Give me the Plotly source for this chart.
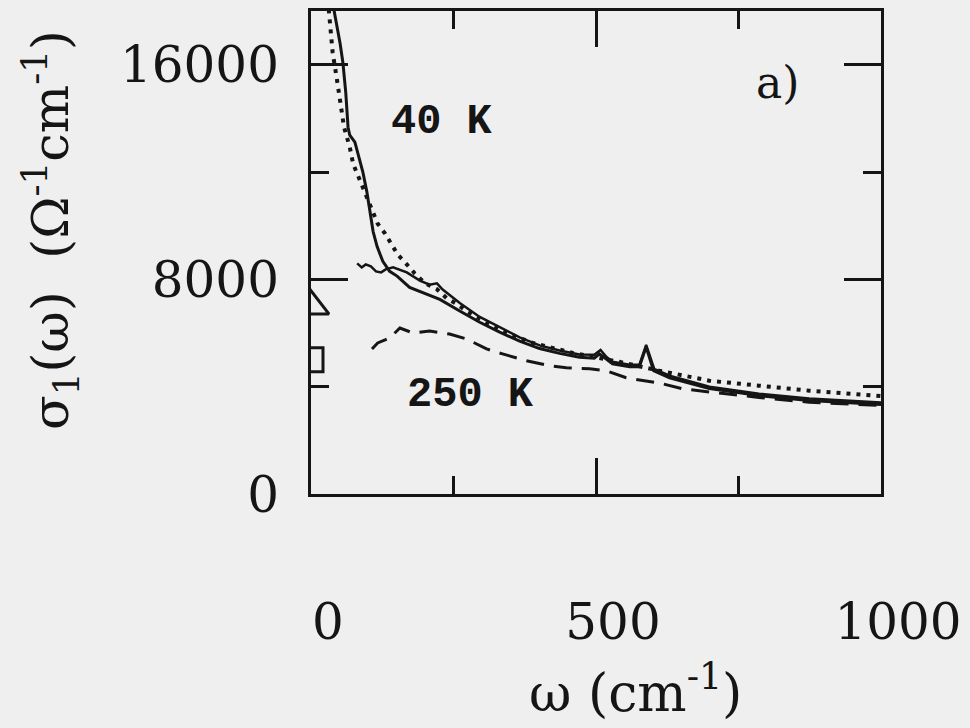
import plotly.graph_objects as go

# ---- data ----
# 40 K measured conductivity (solid)
w_40K = [38, 45, 51, 56, 61, 65, 68, 77, 82, 91, 98, 103, 109, 116, 126, 138, 151, 173,
         203, 226, 261, 296, 331, 366, 401, 436, 471, 497, 506, 517, 529, 559, 576, 588,
         601, 629, 699, 786, 874, 1000]
s_40K = [18300, 17550, 16800, 16070, 14960, 13670, 13370, 13110, 12740, 12000, 11260,
         10520, 9780, 9220, 8670, 8300, 8120, 7700, 7450, 7250, 6820, 6400, 6030, 5700,
         5420, 5240, 5100, 5060, 5222, 5060, 4852, 4741, 4741, 5481, 4593, 4333, 3926,
         3667, 3481, 3333]

# intermediate temperature (second solid curve)
w_mid = [81, 89, 96, 105, 114, 123, 131, 144, 168, 191, 208, 221, 231, 261, 296, 331,
         366, 401, 436, 471, 497, 508, 518, 529, 559, 576, 588, 602, 629, 699, 786, 874,
         1000]
s_mid = [8593, 8444, 8556, 8481, 8296, 8259, 8370, 8450, 8260, 7950, 7800, 7850, 7620,
         7120, 6600, 6220, 5840, 5540, 5350, 5200, 5190, 5370, 5111, 4926, 4815, 4815,
         5556, 4667, 4407, 4000, 3741, 3556, 3407]

# fit (dotted)
w_fit = [28, 31, 35, 38, 45, 51, 58, 68, 74, 82, 89, 107, 117, 130, 142, 152, 168, 182,
         200, 221, 238, 256, 273, 313, 348, 389, 459, 541, 611, 699, 786, 874, 1000]
s_fit = [18800, 18000, 17185, 16444, 15519, 14593, 13667, 12926, 12296, 11889, 11519,
         10519, 10074, 9704, 9296, 8926, 8556, 8222, 7852, 7630, 7296, 7074, 6815, 6333,
         5963, 5630, 5259, 4926, 4593, 4222, 4037, 3852, 3650]

# 250 K (dashed)
w_250K = [107, 117, 130, 138, 156, 165, 179, 208, 243, 273, 308, 336, 378, 419, 448, 489,
          518, 553, 616, 651, 699, 786, 874, 1000]
s_250K = [5407, 5630, 5741, 5815, 6185, 6111, 6000, 6074, 5963, 5778, 5407, 5222, 4963,
          4778, 4704, 4667, 4593, 4333, 4111, 3926, 3800, 3600, 3420, 3300]

# dc conductivities at omega = 0
dc_tri = 7000
dc_sq = 5000

x_ticks = [0, 500, 1000]
x_minor = [250, 750]
y_ticks = [0, 8000, 16000]
y_minor = [4000, 12000]

INK = "#151515"
BG = "#efefef"

fig = go.Figure()
fig.add_trace(go.Scatter(x=w_fit, y=s_fit, mode="lines",
                         line=dict(color=INK, width=4, dash="4px,6px")))
fig.add_trace(go.Scatter(x=w_250K, y=s_250K, mode="lines",
                         line=dict(color=INK, width=3, dash="18px,10px")))
fig.add_trace(go.Scatter(x=w_mid, y=s_mid, mode="lines",
                         line=dict(color=INK, width=2.5)))
fig.add_trace(go.Scatter(x=w_40K, y=s_40K, mode="lines",
                         line=dict(color=INK, width=3)))
fig.add_trace(go.Scatter(x=[0], y=[dc_tri], mode="markers", cliponaxis=True,
                         marker=dict(symbol="triangle-up-open", size=31,
                                     color=INK, line=dict(width=3, color=INK))))
fig.add_trace(go.Scatter(x=[0], y=[dc_sq], mode="markers", cliponaxis=True,
                         marker=dict(symbol="square-open", size=24,
                                     color=INK, line=dict(width=3, color=INK))))

tickfont = dict(family="DejaVu Serif", size=50, color=INK)

fig.update_xaxes(range=[0, 1000], tickvals=x_ticks, ticktext=[str(v) for v in x_ticks],
                 ticks="inside", ticklen=36, tickwidth=3, tickcolor=INK,
                 minor=dict(tickvals=x_minor, ticks="inside", ticklen=18, tickwidth=3,
                            tickcolor=INK),
                 showline=True, linewidth=3, linecolor=INK, mirror="allticks",
                 showgrid=False, zeroline=False, tickfont=tickfont,
                 ticklabelshift=17, ticklabelstandoff=82)
fig.update_yaxes(range=[0, 18000], tickvals=y_ticks, ticktext=[str(v) for v in y_ticks],
                 ticks="inside", ticklen=37, tickwidth=3, tickcolor=INK,
                 minor=dict(tickvals=y_minor, ticks="inside", ticklen=18, tickwidth=3,
                            tickcolor=INK),
                 showline=True, linewidth=3, linecolor=INK, mirror="allticks",
                 showgrid=False, zeroline=False, tickfont=tickfont,
                 ticklabelstandoff=19)

annots = [
    dict(x=229, y=13852, xref="x", yref="y", text="40 K",
         font=dict(family="Liberation Mono", size=42, color=INK, weight="bold")),
    dict(x=280, y=3704, xref="x", yref="y", text="250 K",
         font=dict(family="Liberation Mono", size=42, color=INK, weight="bold")),
    dict(x=818, y=15333, xref="x", yref="y", text="a)",
         font=dict(family="DejaVu Serif", size=44, color=INK)),
    dict(x=(636 - 311) / 571, y=(494 - 690) / 486, xref="paper", yref="paper",
         text="ω (cm<sup>-1</sup>)",
         font=dict(family="DejaVu Serif", size=52, color=INK)),
    dict(x=(50 - 311) / 571, y=(494 - 228) / 486, xref="paper", yref="paper",
         text="σ<sub>1</sub>(ω)  (Ω<sup>-1</sup>cm<sup>-1</sup>)", textangle=-90,
         font=dict(family="DejaVu Serif", size=51, color=INK)),
]
for a in annots:
    a.update(showarrow=False, xanchor="center", yanchor="middle")
fig.update_layout(annotations=annots)

fig.update_layout(width=970, height=728, showlegend=False,
                  margin=dict(l=311, r=88, t=8, b=234),
                  paper_bgcolor=BG, plot_bgcolor=BG)

fig.write_html("out.html")
